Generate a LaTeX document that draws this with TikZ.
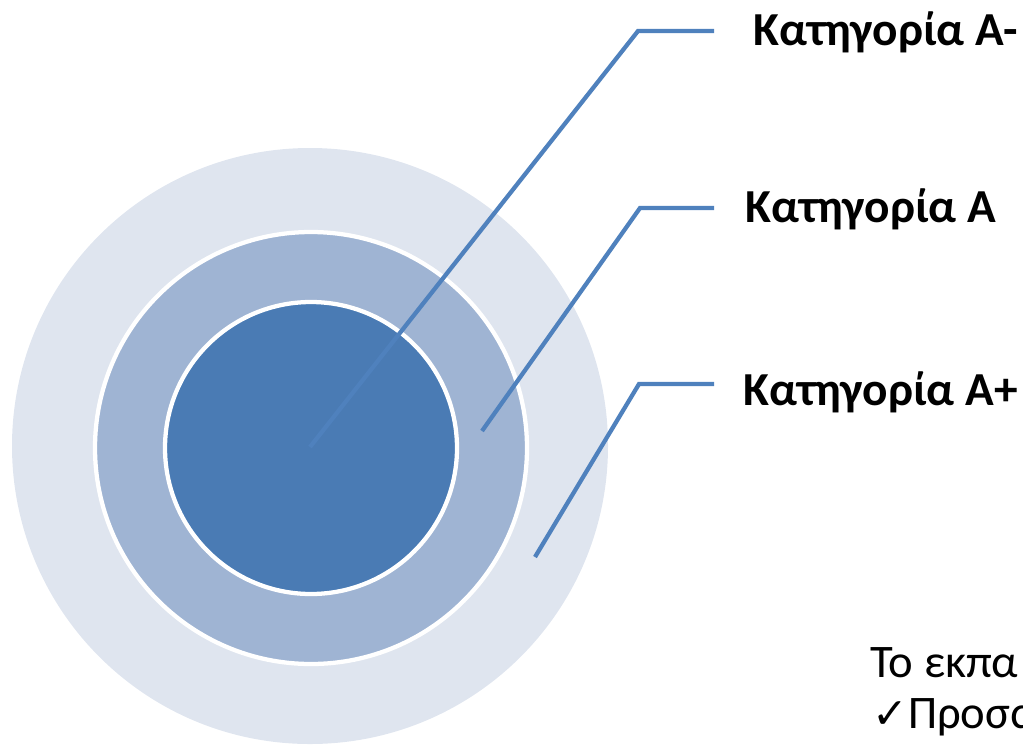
\documentclass[tikz,border=0pt]{standalone}
\usepackage{fontspec}
\setmainfont{Carlito}
\newfontfamily\symbolfont{DejaVu Sans}
\definecolor{ringout}{HTML}{DFE5EF}
\definecolor{ringmid}{HTML}{9FB4D3}
\definecolor{ringcore}{HTML}{4A7BB4}
\definecolor{connblue}{HTML}{4F81BD}
\tikzset{
  conn/.style={draw=connblue, line width=3.2pt, line join=miter},
  label/.style={anchor=base west, inner sep=0pt, font=\fontsize{35.5}{42}\selectfont\bfseries},
  bodytext/.style={anchor=base west, inner sep=0pt, font=\fontsize{35}{42}\selectfont},
}
\begin{document}
\begin{tikzpicture}[x=0.75pt,y=-0.75pt]
\useasboundingbox (0,0) rectangle (1023,747);
\clip (0,0) rectangle (1023,747);
% rings
\fill[ringout] (310,446) circle[radius=223.5pt];
\filldraw[fill=ringmid, draw=white, line width=3.2pt] (311,448) circle[radius=162pt];
\filldraw[fill=ringcore, draw=white, line width=3.2pt] (311,448) circle[radius=109.5pt];
% labels
\node[label] (lam) at (753,45) {Κατηγορία A-};
\node[label] (la) at (745,222) {Κατηγορία A};
\node[label] (lap) at (743,405) {Κατηγορία A+};
\node[bodytext] (t1) at (870,677) {Το εκπα};
\node[bodytext] (t2) at (872,728) {{\symbolfont\bfseries\fontsize{32}{36}\selectfont ✓}Προσα};
% connector points
\coordinate (sam) at (310,447);
\coordinate (kam) at (638,31);
\coordinate (eam) at (714,31);
\coordinate (sa) at (482,431);
\coordinate (ka) at (640,208);
\coordinate (ea) at (714,208);
\coordinate (sap) at (535,557);
\coordinate (kap) at (639,384);
\coordinate (eap) at (714,384);
\draw[conn] (sam) -- (kam) -- (eam);
\draw[conn] (sa) -- (ka) -- (ea);
\draw[conn] (sap) -- (kap) -- (eap);
\end{tikzpicture}
\end{document}
